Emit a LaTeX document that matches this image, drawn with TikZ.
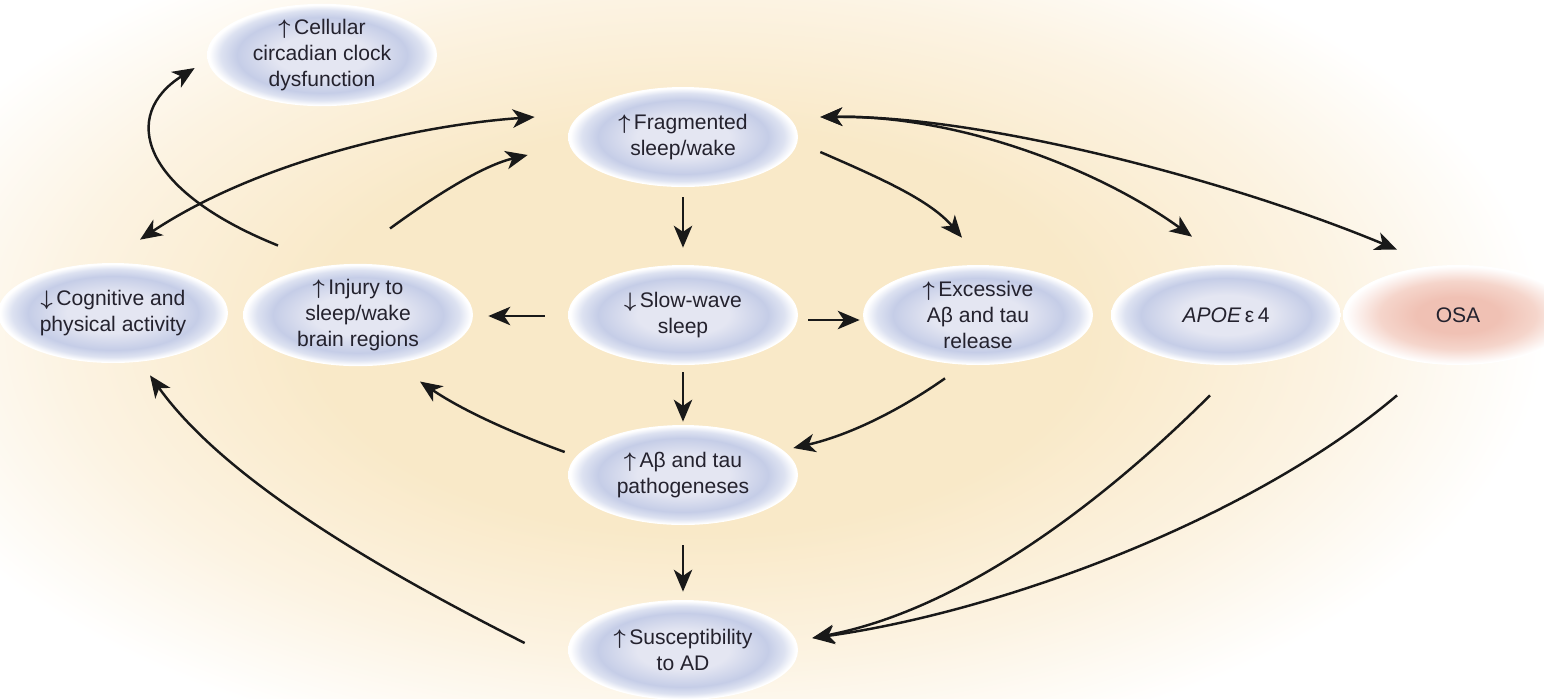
\documentclass[tikz,border=0pt]{standalone}
\usepackage{fontspec}
\setmainfont{Liberation Sans}
\usetikzlibrary{arrows.meta}
\usetikzlibrary{shapes.geometric}
\usetikzlibrary{positioning}

\definecolor{txt}{HTML}{24222E}
\definecolor{blueIn}{HTML}{E4E6F2}
\definecolor{blueMid}{HTML}{C5CDE7}
\definecolor{blueOut}{HTML}{DDE2F1}
\definecolor{pinkIn}{HTML}{F0C1B4}
\definecolor{pinkMid}{HTML}{F5D5CB}
\definecolor{creamIn}{HTML}{F9E9C8}
\definecolor{creamOut}{HTML}{FCF3E2}

\newcommand{\up}{{\boldmath$\uparrow$}\,}
\newcommand{\down}{{\boldmath$\downarrow$}\,}

% the bounding box of a shaded path takes the inner 25bp of these
\pgfdeclareradialshading{blueglow}{\pgfpoint{0bp}{0bp}}{%
  color(0bp)=(blueIn);color(10bp)=(blueIn);color(18.5bp)=(blueMid);%
  color(22bp)=(blueOut);color(24.5bp)=(white);color(50bp)=(white)}
\pgfdeclareradialshading{pinkglow}{\pgfpoint{0bp}{0bp}}{%
  color(0bp)=(pinkIn);color(9bp)=(pinkIn);color(17bp)=(pinkMid);%
  color(24.5bp)=(white);color(50bp)=(white)}
\pgfdeclareradialshading{creamglow}{\pgfpoint{0bp}{0bp}}{%
  color(0bp)=(creamIn);color(11bp)=(creamIn);color(18bp)=(creamOut);%
  color(24bp)=(white);color(50bp)=(white)}

\begin{document}
\begin{tikzpicture}
[x=0.02cm,y=-0.02cm,>={Stealth[length=12.5pt,width=10.5pt,inset=3.5pt]},
 every node/.style={ellipse,shading=blueglow,minimum width=4.6cm,minimum height=2cm,
   inner sep=0pt,align=center,text=txt,font=\fontsize{12}{15}\selectfont},
 link/.style={line width=1.4pt,draw=black!90}]

% background
\useasboundingbox (0,0) rectangle (1544,698);
\fill[white] (0,0) rectangle (1544,698);
\shade[shading=creamglow] (700,330) ellipse [x radius=880, y radius=460];

\node (clock) at (322,55) {\up Cellular\\circadian clock\\dysfunction};
\node (frag) at (683,137) {\up Fragmented\\sleep/wake};

\node (cog) at (113,313) {\down Cognitive and\\physical activity};
\node (inj) at (358,315) {\up Injury to\\sleep/wake\\brain regions};
\node (slow) at (683,315) {\down Slow-wave\\sleep};
\node (exc) at (978,315) {\up Excessive\\Aβ and tau\\release};
\node (apoe) at (1226,315) {\textit{APOE}\,ε\,4};
\node[shading=pinkglow] (osa) at (1458,315) {OSA};

\node (path) at (683,475) {\up Aβ and tau\\pathogeneses};
\node (susc) at (683,650) {\up Susceptibility\\to AD};

% straight ones
\draw[link,->] ([shift={(0,10)}]frag.south) -- ([shift={(0,-17)}]slow.north);
\draw[link,->] ([shift={(0,7)}]slow.south) -- ([shift={(0,-3)}]path.north);
\draw[link,->] ([shift={(0,20)}]path.south) -- ([shift={(0,-8)}]susc.north);
\draw[link,->] ([shift={(-23,1)}]slow.west) -- ([shift={(15,1)}]inj.east);
\draw[link,->] ([shift={(10,5)}]slow.east) -- ([shift={(-3,5)}]exc.west);

% curved ones
\draw[link,->] ([shift={(22,15)}]frag.east) .. controls (880,178) and (930,200) .. ([shift={(-16,-27)}]exc.north);
\draw[link,<->] ([shift={(22,-20)}]frag.east) .. controls (960,115) and (1100,170) .. ([shift={(-34,-28)}]apoe.north);
\draw[link,<->] ([shift={(22,-20)}]frag.east) .. controls (980,115) and (1230,180) .. ([shift={(-61,-15)}]osa.north);
\draw[link,<->] ([shift={(27,-23)}]cog.north) .. controls (260,160) and (420,125) .. ([shift={(-33,-20)}]frag.west);
\draw[link,->] ([shift={(32,-35)}]inj.north) .. controls (440,192) and (485,165) .. ([shift={(-40,18)}]frag.west);
\draw[link,->] ([shift={(-80,-18)}]inj.north) .. controls (140,190) and (120,115) .. ([shift={(-12,13)}]clock.west);
\draw[link,->] ([shift={(-3,-23)}]path.west) .. controls (510,432) and (462,410) .. ([shift={(62,15)}]inj.south);
\draw[link,->] ([shift={(-33,13)}]exc.south) .. controls (900,410) and (850,435) .. ([shift={(-5,-27)}]path.east);
\draw[link,->] ([shift={(-43,-7)}]susc.west) .. controls (380,570) and (225,480) .. ([shift={(37,12)}]cog.south);
\draw[link,->] ([shift={(-16,30)}]apoe.south) .. controls (1100,505) and (960,610) .. ([shift={(14,-12)}]susc.east);
\draw[link,->] ([shift={(-61,30)}]osa.south) .. controls (1250,520) and (1000,612) .. ([shift={(14,-12)}]susc.east);

\end{tikzpicture}
\end{document}
